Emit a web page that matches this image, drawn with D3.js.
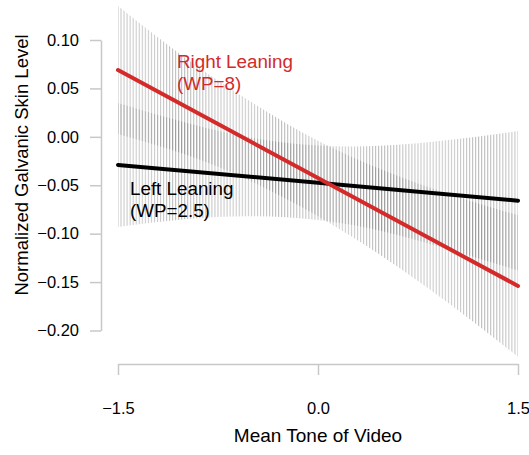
<!DOCTYPE html>
<html>
<head>
<meta charset="utf-8">
<script src="https://cdn.jsdelivr.net/npm/d3@7"></script>
<style>
  body { margin: 0; background: #fff; }
  text { font-family: "Liberation Sans", Arial, Helvetica, sans-serif; }
</style>
</head>
<body>
<div id="vis"></div>
<script>
// fitted lines (values at the two ends of the x range)
var xEnds = [-1.5, 1.5];
var leftLine = [-0.029, -0.066];
var rightLine = [0.069, -0.154];

// confidence bands read at these x positions
var xKnots = [-1.5, -1, -0.5, 0, 0.5, 1, 1.5];
var leftUpper = [0.035, 0.015, -0.001, -0.009, -0.009, -0.003, 0.006];
var leftLower = [-0.093, -0.085, -0.082, -0.086, -0.098, -0.117, -0.138];
var rightUpper = [0.135, 0.082, 0.036, -0.004, -0.035, -0.060, -0.081];
var rightLower = [0.003, -0.018, -0.046, -0.082, -0.125, -0.174, -0.227];

var yTicks = [0.10, 0.05, 0.00, -0.05, -0.10, -0.15, -0.20];
var xTicks = [-1.5, 0, 1.5];

var width = 529, height = 455;
var red = "#d42a2a";

var svg = d3.select("#vis").append("svg")
  .attr("width", width)
  .attr("height", height);

var x = d3.scaleLinear().domain([-1.5, 1.5]).range([118, 518]);
var y = d3.scaleLinear().domain([-0.2, 0.1]).range([330.5, 40]);

// vertical hatching used for the bands
var step = 400 / 132;
var defs = svg.append("defs");
defs.append("pattern")
  .attr("id", "hatch")
  .attr("patternUnits", "userSpaceOnUse")
  .attr("x", x(-1.5) - 0.5)
  .attr("y", 0)
  .attr("width", step)
  .attr("height", 10)
  .append("rect")
  .attr("width", 1)
  .attr("height", 10)
  .attr("fill", "#6e6e6e")
  .attr("fill-opacity", 0.43);

function band(upper, lower) {
  return d3.area()
    .x(function(d, i) { return x(xKnots[i]); })
    .y0(function(d, i) { return y(lower[i]); })
    .y1(function(d, i) { return y(upper[i]); })
    .curve(d3.curveNatural)(xKnots);
}

svg.append("path").attr("d", band(rightUpper, rightLower)).attr("fill", "url(#hatch)");
svg.append("path").attr("d", band(leftUpper, leftLower)).attr("fill", "url(#hatch)");

// fitted lines
var line = d3.line()
  .x(function(d, i) { return x(xEnds[i]); })
  .y(function(d) { return y(d); });

svg.append("path").attr("d", line(leftLine))
  .attr("fill", "none").attr("stroke", "#000")
  .attr("stroke-width", 4).attr("stroke-linecap", "round");
svg.append("path").attr("d", line(rightLine))
  .attr("fill", "none").attr("stroke", red)
  .attr("stroke-width", 4).attr("stroke-linecap", "round");

// axes
var yAxis = svg.append("g")
  .attr("transform", "translate(101,0)")
  .call(d3.axisLeft(y).tickValues(yTicks).tickFormat(d3.format(".2f"))
    .tickSize(11).tickSizeOuter(0).tickPadding(11));

var xAxis = svg.append("g")
  .attr("transform", "translate(0,364)")
  .call(d3.axisBottom(x).tickValues(xTicks).tickFormat(d3.format(".1f"))
    .tickSize(11).tickSizeOuter(0).tickPadding(27));

[yAxis, xAxis].forEach(function(g) {
  g.select(".domain").attr("stroke", "#c8c8c8").attr("stroke-width", 1.5);
  g.selectAll(".tick line").attr("stroke", "#c8c8c8").attr("stroke-width", 1.5);
  g.selectAll(".tick text").attr("fill", "#000")
    .style("font-size", "16.5px")
    .style("font-family", "'Liberation Sans', Arial, Helvetica, sans-serif");
});

// axis titles
svg.append("text")
  .attr("x", 318).attr("y", 442)
  .attr("text-anchor", "middle")
  .style("font-size", "19px")
  .text("Mean Tone of Video");

svg.append("text")
  .attr("transform", "translate(28,165) rotate(-90)")
  .attr("text-anchor", "middle")
  .style("font-size", "18.5px")
  .text("Normalized Galvanic Skin Level");

// series labels
var labels = [
  { lines: ["Right Leaning", "(WP=8)"], x: 177, y: 68, color: red },
  { lines: ["Left Leaning", "(WP=2.5)"], x: 130, y: 195, color: "#000" }
];

labels.forEach(function(l) {
  var t = svg.append("text")
    .attr("x", l.x).attr("y", l.y)
    .attr("fill", l.color)
    .style("font-size", "18.8px");
  l.lines.forEach(function(s, i) {
    t.append("tspan").attr("x", l.x).attr("dy", i === 0 ? 0 : 22).text(s);
  });
});
</script>
</body>
</html>
